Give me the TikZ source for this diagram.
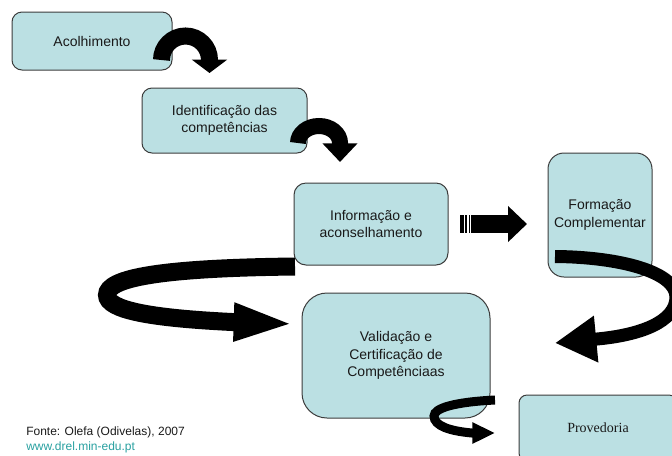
\documentclass[tikz,border=0pt]{standalone}
\usepackage{fontspec}
\setmainfont{Liberation Sans}
\newfontfamily\timesfont{Liberation Serif}
\usetikzlibrary{arrows.meta, positioning}
\definecolor{boxfill}{RGB}{187,224,227}
\definecolor{boxline}{RGB}{60,60,60}
\definecolor{linkcol}{RGB}{40,160,160}
\tikzset{
  stepbox/.style n args={3}{draw=boxline, line width=0.75pt, fill=boxfill,
    rounded corners=#1, minimum width=#2, minimum height=#3, align=center,
    inner sep=0pt, text=black!90, font=\fontsize{10.5}{13}\selectfont},
  swoop/.style n args={3}{line width=#1, line cap=butt, -{Triangle[width=#2, length=#3]}}
}
\begin{document}
\begin{tikzpicture}[x=0.75pt, y=-0.75pt]
  \clip (0,0) rectangle (672,455);
  % steps
  \node[stepbox={7.5pt}{120pt}{43.5pt}] (acol) at (92,41) {Acolhimento};
  \node[stepbox={7.5pt}{123.75pt}{48.75pt}] (ident) at (224.5,120.5) {Identifica\c{c}\~ao das\\compet\^encias};
  \node[stepbox={9pt}{115.5pt}{61.5pt}] (info) at (371,224) {Informa\c{c}\~ao e\\aconselhamento};
  \node[stepbox={12pt}{78pt}{93pt}] (form) at (600,215) {Forma\c{c}\~ao\\Complementar};
  \node[stepbox={18.75pt}{141pt}{93.75pt}] (valid) at (396,355.5) {Valida\c{c}\~ao e\\Certifica\c{c}\~ao de\\Compet\^enciaas};
  \node[stepbox={6pt}{118.5pt}{49.5pt}, font=\timesfont\fontsize{10.5}{13}\selectfont] (prov) at (598,428) {Provedoria};
  % arrows
  \coordinate (a1) at (161.5,60);
  \coordinate (t1) at (209.5,73);
  \draw[swoop={12.75pt}{26pt}{10pt}] (a1) arc[start angle=180, end angle=360, radius=24] -- (t1);
  \coordinate (a2) at (298,143);
  \coordinate (t2) at (340,162);
  \draw[swoop={12pt}{25.5pt}{14pt}] (a2) arc[start angle=180, end angle=360, x radius=21, y radius=17] -- (t2);
  \fill (460,215) rectangle (464,233);
  \fill (465,215) rectangle (467,233);
  \fill (469,215) rectangle (470,233);
  \coordinate (a3) at (471,224);
  \coordinate (t3) at (527,224);
  \draw[swoop={13.5pt}{26.25pt}{14.25pt}] (a3) -- (t3);
  \coordinate (a4) at (295,266.5);
  \coordinate (t4) at (295,324);
  \draw[swoop={13.5pt}{25.5pt}{46pt}] (a4) .. controls (160,268) and (107,278) .. (107,295)
    .. controls (107,310) and (150,318) .. (232,322) -- (t4);
  \coordinate (a5) at (555,256.5);
  \coordinate (t5) at (555,343);
  \draw[swoop={9.75pt}{33pt}{31pt}] (a5) .. controls (620,257) and (676,272) .. (676,297)
    .. controls (676,322) and (640,335) .. (597,339) -- (t5);
  \coordinate (a6) at (495,400);
  \coordinate (t6) at (495,433);
  \draw[swoop={6.75pt}{15pt}{17pt}] (a6) .. controls (455,402) and (434,408) .. (434,416)
    .. controls (434,426) and (450,431) .. (472,433) -- (t6);
  % source
  \node[anchor=west, inner sep=0pt, font=\fontsize{9}{11}\selectfont, text=black!90] (fonte) at (26,432) {Fonte: Olefa (Odivelas), 2007};
  \node[anchor=west, inner sep=0pt, font=\fontsize{9}{11}\selectfont, text=linkcol] (site) at (26,447) {www.drel.min-edu.pt};
\end{tikzpicture}
\end{document}
